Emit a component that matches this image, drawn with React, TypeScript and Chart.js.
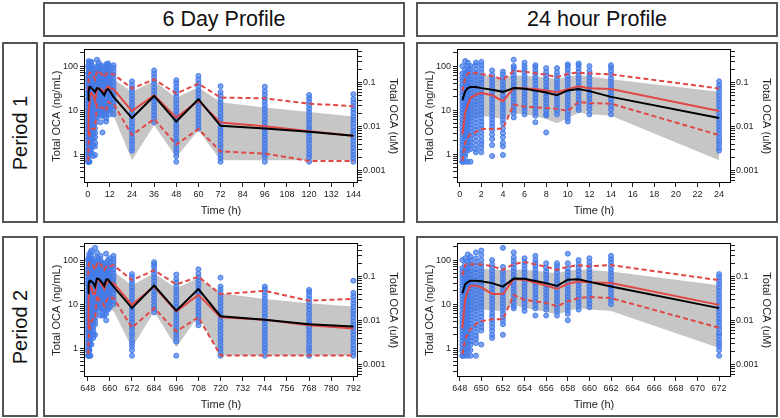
import React, { useEffect, useRef } from "react";
import { Chart, registerables } from "chart.js";

Chart.register(...registerables);

// ---------------- DATA ----------------
// nominal sampling times relative to the start of each period (h)
const relTimes = [0.25, 0.5, 0.75, 1, 1.5, 2, 3, 4, 5, 6, 7, 8, 9, 10, 11, 12, 14, 24, 36, 48, 60, 72, 96, 120, 144];

const periodStarts = [0, 648];
const headerLabels = ["6 Day Profile", "24 hour Profile"];
const periodLabels = ["Period 1", "Period 2"];
const profileSpans = [144, 24];

const xTicks6Day = [0, 12, 24, 36, 48, 60, 72, 84, 96, 108, 120, 132, 144];
const xTicks24h = [0, 2, 4, 6, 8, 10, 12, 14, 16, 18, 20, 22, 24];
const yMajorNg = [1, 10, 100];
const yMajorUm = [0.001, 0.01, 0.1];
const ngRange = [0.22, 240];
const mwOCA = 420.6; // ng/mL -> uM

// Period 1 observed concentrations (ng/mL), one list per nominal time
const p1Obs: number[][] = [
  [0.67, 0.67, 0.8, 0.95, 1.1, 1.3, 1.6, 1.9, 2.3, 2.8, 3.4, 4.1, 5, 6, 7.3, 8.8, 10.5, 12.5, 15, 18, 22, 26, 32, 38, 46, 55, 68, 100],
  [0.67, 0.9, 1.05, 1.25, 1.5, 1.8, 2.2, 2.6, 3.1, 3.7, 4.4, 5.3, 6.4, 7.7, 9.2, 11, 13.2, 16, 19, 23, 27, 33, 40, 48, 58, 70, 85, 130],
  [0.67, 1.2, 1.45, 1.75, 2.1, 2.5, 3, 3.6, 4.3, 5.2, 6.2, 7.5, 9, 10.8, 13, 15.6, 18.7, 22.5, 27, 32, 39, 47, 56, 68, 82, 100, 120],
  [0.67, 1.3, 1.55, 1.85, 2.2, 2.7, 3.2, 3.9, 4.7, 5.6, 6.7, 8, 9.6, 11.5, 13.8, 16.5, 20, 24, 29, 35, 42, 50, 60, 72, 86, 100],
  [1.1, 1.3, 1.6, 2, 2.5, 3, 3.6, 4.3, 5.2, 6.3, 7.6, 9.1, 11, 13.2, 15.8, 19, 23, 27.5, 33, 40, 48, 58, 70, 85, 105, 120],
  [1.1, 1.4, 1.7, 2, 2.5, 3.1, 3.8, 4.6, 5.5, 6.6, 8, 9.6, 11.5, 13.8, 16.6, 20, 24, 29, 35, 42, 50, 60, 72, 88, 105, 125],
  [0.9, 1.6, 2.2, 2.8, 3.5, 4.2, 5, 6, 7.2, 8.6, 10.3, 12.4, 14.9, 17.8, 21.4, 25.7, 30.8, 37, 44, 53, 64, 80],
  [0.95, 1.5, 1.8, 2.4, 3, 3.8, 5, 6, 7.2, 8.7, 10.4, 12.5, 15, 18, 21.6, 26, 31, 37, 45, 54, 65, 75],
  [6.8, 8.5, 10.2, 12.2, 14.6, 17.5, 21, 25, 30, 36, 43, 52, 62, 75, 90, 100, 140],
  [8, 9.6, 11.5, 13.8, 16.6, 20, 24, 28.8, 34.6, 41.5, 50, 60, 72, 86, 100, 120],
  [5.3, 7.5, 9, 10.8, 13, 15.6, 18.7, 22.4, 27, 32, 39, 46.6, 56, 67, 80, 95, 105],
  [3.1, 7.5, 8.2, 9.8, 11.8, 14.2, 17, 20.4, 24.5, 29.4, 35, 42, 51, 61, 73, 90],
  [8, 9.6, 11.5, 13.8, 16.6, 20, 24, 28.8, 34.6, 41.5, 50, 60, 72, 90],
  [5.5, 6.5, 7.8, 9.4, 11.3, 13.5, 16.2, 19.5, 23.4, 28, 33.7, 40.4, 48.5, 58, 70, 84, 100, 110],
  [10, 12, 14.4, 17.3, 20.7, 24.9, 29.9, 35.8, 43, 51.6, 62, 74, 89, 105, 115],
  [8, 10.5, 12.6, 15.1, 18.1, 21.8, 26.1, 31.3, 37.6, 45, 54, 65, 78, 100],
  [8, 10.3, 12.4, 14.9, 17.8, 21.4, 25.7, 30.8, 37, 44.4, 53, 64, 77, 92, 105],
  [1.2, 1.4, 1.7, 2, 2.4, 2.9, 3.5, 4.2, 5, 6, 7.2, 8.6, 10.4, 12.4, 14.9, 17.9, 21.5, 25.8, 31, 37, 45],
  [5.3, 6.4, 7.7, 9.2, 11, 13.2, 15.9, 19, 22.8, 27.4, 32.9, 39.5, 47.4, 57, 68, 80],
  [0.67, 0.9, 1.1, 1.3, 1.55, 1.9, 2.2, 2.7, 3.2, 3.9, 4.6, 5.6, 6.7, 8, 9.6, 11.5, 13.8, 16.6, 20, 24, 28.7, 34, 41, 48],
  [3.8, 4.6, 5.5, 6.6, 7.9, 9.5, 11.4, 13.7, 16.4, 19.7, 23.6, 28.3, 34, 40.8, 49, 60],
  [0.67, 0.8, 0.95, 1.15, 1.4, 1.65, 2, 2.4, 2.9, 3.4, 4.1, 5, 6, 7.1, 8.6, 10.3, 12.3, 14.8, 17.8, 21.4, 25.6, 35],
  [0.67, 0.85, 1, 1.2, 1.45, 1.75, 2.1, 2.5, 3, 3.6, 4.3, 5.2, 6.2, 7.5, 9, 10.8, 13, 15.5, 18.6, 22.3, 27, 34],
  [0.67, 0.85, 1, 1.2, 1.45, 1.75, 2.1, 2.5, 3, 3.6, 4.3, 5.2, 6.2, 7.5, 9, 10.8, 13, 15.5, 18.6, 22],
  [0.67, 0.8, 0.95, 1.15, 1.4, 1.65, 2, 2.4, 2.9, 3.4, 4.1, 5, 6, 7.1, 8.6, 10.3, 12.3, 14.8, 17.8, 23],
];
const p1ObsMedian = [16.8, 26.5, 31.5, 33.5, 33.5, 31.6, 29, 26, 31.6, 30.7, 27.7, 25, 21.8, 28, 30, 27, 20, 6.6, 21, 5.5, 17.7, 4.4, 3.8, 3.2, 2.6];
const p1PredMedian = [2.8, 8.7, 13.4, 19, 22.4, 24.6, 21.7, 15.9, 31.6, 31, 30, 28, 25.5, 30, 35, 31.5, 30, 9.5, 21.7, 6.8, 16.2, 5.2, 4.3, 3.3, 2.6];
const p1PredP95 = [27, 53, 68, 72, 69, 66, 60, 49, 78, 75, 69, 64, 56, 67, 71, 68, 65, 31, 50, 23.8, 40, 19.3, 18.5, 14, 12.3];
const p1PredP05 = [0.7, 1.8, 2.4, 2.8, 3.2, 3.7, 3.7, 3.8, 13.4, 12, 11.5, 11.2, 10.8, 9.5, 15.4, 14.5, 14, 2.7, 6.3, 1.65, 3.7, 1.15, 1.03, 0.7, 0.7];
const p1BandHigh = [30, 50, 58, 62, 63, 63, 60, 55, 62, 60, 58, 55, 50, 58, 62, 58, 50, 26, 46, 19, 33, 15, 11.5, 9, 7.2];
const p1BandLow = [0.8, 2, 4, 6, 7, 7.3, 7, 6.2, 8.5, 8, 7.3, 6.3, 5, 6.5, 8.7, 8.2, 7.4, 0.72, 4.5, 0.85, 3.5, 0.72, 0.72, 0.72, 0.72];

// Period 2 observed concentrations (ng/mL)
const p2Obs: number[][] = [
  [0.67, 0.67, 0.85, 1, 1.2, 1.45, 1.75, 2.1, 2.5, 3, 3.6, 4.3, 5.2, 6.2, 7.5, 9, 10.8, 13, 15.5, 18.6, 22.3, 27, 32, 38.5, 46, 55, 66, 100],
  [0.67, 0.8, 0.95, 1.15, 1.4, 1.7, 2, 2.4, 2.9, 3.5, 4.2, 5, 6, 7.2, 8.7, 10.4, 12.5, 15, 18, 21.6, 26, 31, 37, 45, 54, 65, 80, 110],
  [0.67, 0.9, 1.1, 1.3, 1.6, 1.9, 2.3, 2.8, 3.3, 4, 4.8, 5.8, 7, 8.3, 10, 12, 14.4, 17.3, 20.7, 25, 30, 36, 43, 52, 62, 75, 95, 135],
  [0.67, 0.9, 1.2, 1.45, 1.75, 2.1, 2.5, 3, 3.6, 4.3, 5.2, 6.2, 7.5, 9, 10.8, 13, 15.6, 18.7, 22.4, 27, 32, 39, 46, 56, 67, 80, 100, 120],
  [0.67, 1.3, 1.6, 1.9, 2.3, 2.8, 3.3, 4, 4.8, 5.8, 7, 8.3, 10, 12, 14.4, 17.3, 20.7, 25, 30, 36, 43, 52, 62, 75, 90, 110, 150],
  [1.2, 2.5, 3, 3.6, 4.3, 5.2, 6.2, 7.5, 9, 10.8, 13, 15.6, 18.7, 22.4, 27, 32, 39, 46, 56, 67, 80, 100, 130, 165],
  [1.7, 2, 2.5, 3, 3.6, 4.3, 5.2, 6.2, 7.5, 9, 10.8, 13, 15.6, 18.7, 22.4, 27, 32, 39, 46, 56, 67, 80, 100],
  [2, 3.5, 4.2, 5, 6, 7.2, 8.6, 10.4, 12.4, 14.9, 17.9, 21.5, 25.8, 31, 37, 45, 54, 70, 190],
  [8, 9, 10.8, 13, 15.6, 18.7, 22.4, 27, 32, 39, 46, 56, 67, 80, 95, 115, 150],
  [7, 8.5, 10.2, 12.2, 14.6, 17.5, 21, 25, 30, 36, 43, 52, 62, 75, 90, 110],
  [5.5, 8, 9.6, 11.5, 13.8, 16.6, 20, 24, 28.8, 34.6, 41.5, 50, 60, 72, 85, 100, 125],
  [5.5, 7.5, 9, 10.8, 13, 15.6, 18.7, 22.4, 27, 32, 39, 46, 56, 67, 85],
  [5.5, 6.8, 8.2, 9.8, 11.8, 14.2, 17, 20.4, 24.5, 29.4, 35, 42, 51, 61, 73, 85],
  [4.3, 6, 7.2, 8.6, 10.4, 12.4, 14.9, 17.9, 21.5, 25.8, 31, 37, 45, 54, 65, 85, 140],
  [7.5, 9, 10.8, 13, 15.6, 18.7, 22.4, 27, 32, 39, 46, 56, 67, 80, 100],
  [8.5, 10.2, 12.2, 14.6, 17.5, 21, 25, 30, 36, 43, 52, 62, 75, 90, 110],
  [10, 12, 14.4, 17.3, 20.7, 24.9, 29.9, 35.8, 43, 51.6, 62, 74, 89, 105, 125],
  [0.67, 0.9, 1.1, 1.3, 1.55, 1.9, 2.2, 2.7, 3.2, 3.9, 4.6, 5.6, 6.7, 8, 9.6, 11.5, 13.8, 16.6, 20, 24, 28.7, 34, 41, 48],
  [6.5, 7.8, 9.4, 11.3, 13.5, 16.2, 19.5, 23.4, 28, 33.7, 40.4, 48.5, 58, 70, 80, 90],
  [0.67, 1.4, 1.7, 2, 2.4, 2.9, 3.5, 4.2, 5, 6, 7.2, 8.6, 10.4, 12.4, 14.9, 17.9, 21.5, 25.8, 31, 37, 47],
  [3.3, 4, 4.6, 5.5, 6.6, 7.9, 9.5, 11.4, 13.7, 16.4, 19.7, 23.6, 28.3, 34, 40.8, 49, 62],
  [0.67, 0.8, 0.95, 1.15, 1.4, 1.65, 2, 2.4, 2.9, 3.4, 4.1, 5, 6, 7.1, 8.6, 10.3, 12.3, 14.8, 17.8, 21.4, 25, 40],
  [0.67, 0.85, 1, 1.2, 1.45, 1.75, 2.1, 2.5, 3, 3.6, 4.3, 5.2, 6.2, 7.5, 9, 10.8, 13, 15.5, 18.6, 22, 25],
  [0.67, 0.85, 1, 1.2, 1.45, 1.75, 2.1, 2.5, 3, 3.6, 4.3, 5.2, 6.2, 7.5, 9, 10.8, 13, 15.5, 18.6, 21],
  [0.67, 0.8, 0.95, 1.15, 1.4, 1.65, 2, 2.4, 2.9, 3.4, 4.1, 5, 6, 7.1, 8.6, 10.3, 12.3, 14.8, 18, 34],
];
const p2ObsMedian = [17.7, 28, 31.5, 34, 34, 33, 30, 25, 38, 37.5, 33.5, 30, 26, 36, 36.5, 32, 25, 8.1, 26.5, 7.1, 22, 5.3, 4.4, 3.5, 3.1];
const p2PredMedian = [2.8, 12.5, 20, 26, 26, 24, 17, 17, 37, 35.5, 30.5, 26.5, 22, 29, 32.5, 31.5, 30, 9.6, 25, 6.8, 16.2, 5, 4.4, 3.3, 2.8];
const p2PredP95 = [45, 77, 84, 81, 81, 80, 73, 60, 81, 91, 80, 71, 60, 71, 76, 73, 77, 35, 59, 28, 42, 16.8, 20, 11.9, 13.2];
const p2PredP05 = [0.72, 1.6, 2.1, 2.7, 3.5, 4.1, 4.5, 4.5, 16, 12.6, 11.6, 10.6, 8.9, 11.6, 13.7, 14.5, 13.7, 2.9, 8.1, 2.4, 5, 0.68, 0.68, 0.68, 0.68];
const p2BandHigh = [35, 55, 60, 62, 63, 63, 62, 60, 62, 60, 57, 54, 50, 58, 62, 60, 55, 27, 50, 23, 39, 17.6, 13, 10.5, 8.8];
const p2BandLow = [0.8, 2, 4, 6, 7, 7.5, 7.2, 6.9, 9.7, 8.2, 7.4, 6.6, 5.8, 7, 8, 7.5, 7, 1.0, 6.8, 1.05, 5.3, 0.68, 0.68, 0.68, 0.68];

const periodData = [
  { obs: p1Obs, med: p1ObsMedian, pred: p1PredMedian, hi: p1PredP95, lo: p1PredP05, bandHi: p1BandHigh, bandLo: p1BandLow },
  { obs: p2Obs, med: p2ObsMedian, pred: p2PredMedian, hi: p2PredP95, lo: p2PredP05, bandHi: p2BandHigh, bandLo: p2BandLow },
];

// ---------------- STYLE / LAYOUT ----------------
const FONT = '"Liberation Sans", Arial, Helvetica, sans-serif';
const BLUE = "rgb(70,124,232)";
const BLUE_FILL = "rgba(70,124,232,0.7)";
const RED = "#e04848";
const GRAY = "#c6c6c6";
const BORDER = "2px solid #555";

const PANEL_W = 362;
const PANEL_H = 181;
const colLeft = [43, 416];
const rowTop = [42, 236];

function logTickValues(majors: number[], min: number, max: number) {
  const bases = [majors[0] / 10, ...majors, majors[majors.length - 1] * 10];
  const out: number[] = [];
  bases.forEach((b) => {
    for (let k = 1; k < 10; k++) {
      const v = b * k;
      if (v >= min && v <= max) out.push(v);
    }
  });
  return out.sort((a, b) => a - b);
}

const boxPlugin = {
  id: "plotBox",
  afterDraw(chart: any) {
    const { ctx, chartArea: a } = chart;
    ctx.save();
    ctx.strokeStyle = "#000";
    ctx.lineWidth = 1;
    ctx.strokeRect(Math.round(a.left) + 0.5, Math.round(a.top) + 0.5, Math.round(a.right - a.left) - 1, Math.round(a.bottom - a.top) - 1);
    ctx.restore();
  },
};

function Panel({ period, profile }: { period: number; profile: number }) {
  const ref = useRef<HTMLCanvasElement>(null);
  useEffect(() => {
    const d = periodData[period];
    const start = periodStarts[period];
    const span = profileSpans[profile];
    const ticks = (profile === 0 ? xTicks6Day : xTicks24h).map((t) => t + start);
    const idx = relTimes.map((_, i) => i).filter((i) => relTimes[i] <= span);
    const pts: { x: number; y: number }[] = [];
    idx.forEach((i) => d.obs[i].forEach((v) => pts.push({ x: start + relTimes[i], y: v })));
    const ser = (arr: number[]) => idx.map((i) => ({ x: start + relTimes[i], y: arr[i] }));
    const xMin = profile === 0 ? start - 2 : start - 0.25;
    const xMax = profile === 0 ? start + 146.5 : start + 25.1;

    const lineDs = (data: any, color: string, dash: number[], order: number) => ({
      data,
      showLine: true,
      borderColor: color,
      borderWidth: 2,
      borderDash: dash,
      pointRadius: 0,
      fill: false,
      tension: 0,
      order,
    });

    const yNgTicks = logTickValues(yMajorNg, ngRange[0], ngRange[1]);
    const umMin = ngRange[0] / mwOCA;
    const umMax = ngRange[1] / mwOCA;
    const yUmTicks = logTickValues(yMajorUm, umMin, umMax);

    const tickFont = { family: FONT, size: 9 };
    const titleFont = { family: FONT, size: 11 };

    const chart = new Chart(ref.current as HTMLCanvasElement, {
      type: "scatter",
      data: {
        datasets: [
          lineDs(ser(d.med), "#000", [], 1),
          lineDs(ser(d.pred), RED, [], 2),
          lineDs(ser(d.hi), RED, [5, 3], 3),
          lineDs(ser(d.lo), RED, [5, 3], 3),
          {
            data: pts,
            showLine: false,
            pointRadius: 2.5,
            pointBorderWidth: 1,
            pointBorderColor: BLUE,
            pointBackgroundColor: BLUE_FILL,
            borderColor: BLUE,
            backgroundColor: BLUE_FILL,
            order: 5,
          },
          {
            data: ser(d.bandHi),
            showLine: true,
            borderWidth: 0,
            borderColor: "rgba(0,0,0,0)",
            pointRadius: 0,
            backgroundColor: GRAY,
            fill: "+1",
            order: 8,
          },
          {
            data: ser(d.bandLo),
            showLine: true,
            borderWidth: 0,
            borderColor: "rgba(0,0,0,0)",
            pointRadius: 0,
            fill: false,
            order: 9,
          },
        ] as any,
      },
      options: {
        animation: false,
        responsive: false,
        events: [],
        layout: { padding: { top: 6, left: 0, right: 0, bottom: 0 } },
        plugins: { legend: { display: false }, tooltip: { enabled: false } },
        scales: {
          x: {
            type: "linear",
            position: "bottom",
            min: xMin,
            max: xMax,
            afterBuildTicks: (s: any) => {
              s.ticks = ticks.map((v) => ({ value: v }));
            },
            afterFit: (s: any) => {
              s.height = 40;
            },
            ticks: {
              autoSkip: false,
              maxRotation: 0,
              padding: 2,
              color: "#222",
              font: tickFont,
              callback: (v: any) => String(v),
            },
            grid: { display: true, drawOnChartArea: false, drawTicks: true, tickLength: 4, color: "#222" },
            border: { display: false },
            title: { display: true, text: "Time (h)", color: "#222", font: titleFont, padding: { top: 0, bottom: 5 } },
          },
          y: {
            type: "logarithmic",
            position: "left",
            min: ngRange[0],
            max: ngRange[1],
            afterBuildTicks: (s: any) => {
              s.ticks = yNgTicks.map((v) => ({ value: v, major: yMajorNg.includes(v) }));
            },
            afterFit: (s: any) => {
              s.width = 41;
            },
            ticks: {
              autoSkip: false,
              padding: 2,
              color: "#222",
              font: tickFont,
              callback: (v: any) => (yMajorNg.includes(Number(v)) ? String(v) : ""),
            },
            grid: { display: true, drawOnChartArea: false, drawTicks: true, tickLength: 4, color: "#222" },
            border: { display: false },
            title: { display: true, text: "Total OCA (ng/mL)", color: "#222", font: titleFont, padding: { top: 7, bottom: 0 } },
          },
          y2: {
            type: "logarithmic",
            position: "right",
            min: umMin,
            max: umMax,
            afterBuildTicks: (s: any) => {
              s.ticks = yUmTicks.map((v) => ({ value: v }));
            },
            afterFit: (s: any) => {
              s.width = 47;
            },
            ticks: {
              autoSkip: false,
              padding: 1,
              color: "#222",
              font: tickFont,
              callback: (v: any) => (yMajorUm.includes(Number(v)) ? String(v) : ""),
            },
            grid: { display: true, drawOnChartArea: false, drawTicks: true, tickLength: 4, color: "#222" },
            border: { display: false },
            title: { display: true, text: "Total OCA (uM)", color: "#222", font: titleFont, padding: { top: 5, bottom: 0 } },
          },
        },
      } as any,
      plugins: [boxPlugin],
    });
    return () => chart.destroy();
  }, [period, profile]);

  return (
    <canvas
      ref={ref}
      width={PANEL_W}
      height={PANEL_H}
      style={{ position: "absolute", left: colLeft[profile], top: rowTop[period], width: PANEL_W, height: PANEL_H }}
    />
  );
}

export default function App() {
  const box = (left: number, top: number, width: number, height: number): React.CSSProperties => ({
    position: "absolute",
    left,
    top,
    width,
    height,
    boxSizing: "border-box",
    border: BORDER,
  });
  return (
    <div
      style={{
        position: "fixed",
        left: 0,
        top: 0,
        width: 780,
        height: 418,
        background: "#fff",
        overflow: "hidden",
        fontFamily: FONT,
        color: "#111",
      }}
    >
      {headerLabels.map((h, i) => (
        <div
          key={h}
          style={{ ...box(colLeft[i], 2, PANEL_W, 35), display: "flex", alignItems: "center", justifyContent: "center", fontSize: 21.5 }}
        >
          {h}
        </div>
      ))}
      {periodLabels.map((p, i) => (
        <div key={p} style={box(2, rowTop[i], 36, PANEL_H)}>
          <div
            style={{
              position: "absolute",
              left: "50%",
              top: "50%",
              transform: "translate(-50%, -50%) rotate(-90deg)",
              whiteSpace: "nowrap",
              fontSize: 20,
            }}
          >
            {p}
          </div>
        </div>
      ))}
      {[0, 1].map((per) =>
        [0, 1].map((prof) => <Panel key={`${per}-${prof}`} period={per} profile={prof} />)
      )}
      {[0, 1].map((per) =>
        [0, 1].map((prof) => (
          <div key={`b${per}-${prof}`} style={{ ...box(colLeft[prof], rowTop[per], PANEL_W, PANEL_H), pointerEvents: "none" }} />
        ))
      )}
    </div>
  );
}
